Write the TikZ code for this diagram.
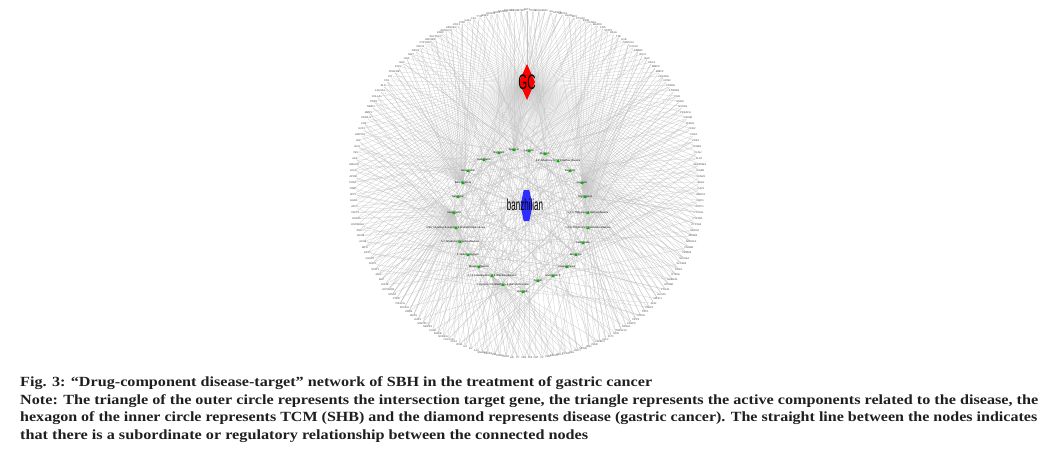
\documentclass[tikz,border=0pt]{standalone}
\usepackage{fontspec}
\usepackage{graphicx}
\setmainfont{Liberation Serif}
\newfontfamily\arialf{Liberation Sans}
\usetikzlibrary{shapes.geometric,backgrounds,calc}
\def\genelist{AKT1,TP53,VEGFA,JUN,IL6,CASP3,MAPK1,EGFR,MYC,PTGS2,ESR1,CCND1,MAPK8,FOS,STAT3,RELA,TNF,IL1B,MAPK14,CXCL8,ERBB2,BCL2,BAX,HIF1A,MMP9,MMP2,CDKN1A,NOS2,PPARG,CTNNB1,PGR,RXRA,NCOA2,PRKACA,GSK3B,CHEK1,CDK2,CDK1,CDK4,CCNB1,PLAU,PLAT,SERPINE1,ICAM1,VCAM1,SELE,CAV1,HMOX1,NQO1,GSTP1,CYP1A1,CYP1B1,CYP3A4,ABCG2,ADRB2,ADRA1A,CHRM1,CHRM2,SLC6A4,SLC6A3,DRD1,HTR2A,GABRA1,OPRM1,PTGS1,ALOX5,NR3C1,AHR,PARP1,TOP1,TOP2A,DPP4,CASP8,FASLG,TNFSF10,KDR,FLT1,IGF2,IGFBP3,INSR,IRS1,MDM2,E2F1,RB1,PCNA,MCL1,BIRC5,XIAP,F2,CAT,F10,FAS,F7,AR,CDH1,SNAI1,VIM,TGFB1,SMAD3,IL10,IL2,IL4,IFNG,CCL2,CXCL10,NFKBIA,IKBKB,CHUK,MAPK3,MAP2K1,RAF1,HRAS,KRAS,PIK3CA,PIK3CG,PTEN,MTOR,RPS6KB1,EIF4E,SRC,JAK2,STAT1,SOD1,CASP9,GPX1,MPO,ACHE,BCHE,XDH,HSP90AA1,HSPA5,DDIT4,ATF3,EGR1,SPP1,THBD,PON1,APOB,LDLR,HMGCR,ALB,INS,GCG,LEP,ADIPOQ,UCP1,CRP,CD40LG,MMP1,MMP3,TIMP1,COL1A1,COL3A1,ELN,FN1,KIT,PDGFRB,FGF2,EGF,HGF,MET,NR1I2,NR1I3,CYP19A1,HSD3B2,SULT1E1,ESR2,AKR1C3,AKR1B1,ODC1,POR,GJA1,CA2,TYR,BMP2,RUNX2,SOX2,NANOG,POU5F1,PRSS1,CTSD}
\begin{document}
\begin{tikzpicture}[x=1pt,y=-1pt,
  edge/.style={draw=black!24, line width=0.22pt},
  gene/.style={font=\arialf\fontsize{2.6}{2.8}\selectfont, text=black!72, inner sep=0.15pt},
  comp/.style={regular polygon, regular polygon sides=3, fill=green!72!black, draw=none, inner sep=0pt, minimum size=4pt},
  clab/.style={font=\arialf\fontsize{2.6}{2.9}\selectfont, text=black, inner sep=0pt},
  captext/.style={font=\bfseries\fontsize{14}{16}\selectfont, text=black!88, inner sep=0pt, anchor=base west}
]
\useasboundingbox (0,0) rectangle (1050,458);

% centres of disease and drug
\coordinate (gc) at (527,82);
\coordinate (shb) at (526.5,205.5);

% active components (inner ring)
\foreach \n/\x/\y/\t in {
  1/484/160/{Scutellarein},
  2/499/153/{Baicalein},
  3/514/150/{Apigenin},
  4/529/151/{Luteolin},
  5/545/154/{Wogonin},
  6/558/161/{5,2'-Dihydroxy-6,7,8-trimethoxyflavone},
  7/570/171/{Rivularin},
  8/582/183/{quercetin},
  9/585/197/{Stigmasterol},
  10/588/213/{5,7,4'-Trihydroxy-8-methoxyflavone},
  11/588/228/{5,2',6'-Trihydroxy-7,8-dimethoxyflavone},
  12/583/243/{Carthamidin},
  13/576/255/{Eriodictyol},
  14/567/267/{Isoscutellarein},
  15/553/276/{Ikarisoside F},
  16/538/281/{Dinatin},
  17/523/292/{Hispidulin},
  18/503/285/{7-Hydroxy-5,8-dimethoxy-2-phenyl-chromone},
  19/492/276/{5,7,2,5-tetrahydroxy-8,6-dimethoxyflavone},
  20/479/267/{Moslosooflavone},
  21/468/255/{4'-Hydroxywogonin},
  22/460/242/{5,7-Dihydroxy-8-methoxyflavone},
  23/456/228/{(2R)-7-hydroxy-5-methoxy-2-phenylchroman-4-one},
  24/454/213/{kaempferol},
  25/458/197/{Salvigenin},
  26/463/183/{beta-sitosterol},
  27/468/171/{Norwogonin}} {
  \node[clab] (t\n) at (\x,\y) {\t};
  \node[comp] (c\n) at (\x,\y) {};
}

% targets (outer circle)
\foreach \g [count=\k] in \genelist {\xdef\Ngenes{\k}}
\pgfmathsetmacro\angstep{360/\Ngenes}
\foreach \g [count=\k] in \genelist {
  \pgfmathsetmacro\ang{90-(\k-1)*\angstep}
  \pgfmathsetmacro\gx{527+174*cos(\ang)}
  \pgfmathsetmacro\gy{184-174*sin(\ang)}
  \node[gene] (g\k) at (\gx,\gy) {\g};
}

% connectors
\begin{pgfonlayer}{background}
\foreach \k in {1,...,\Ngenes} {
  \pgfmathsetmacro\ang{mod(450-(\k-1)*\angstep,360)}
  \pgfmathtruncatemacro\hub{(\ang>100 && \ang<165) ? 26 : ((\ang>=165 && \ang<262) ? 24 : ((\ang>=262 && \ang<290) ? 19 : ((\ang>80 && \ang<=100) ? 3 : 8)))}
  \pgfmathtruncatemacro\ra{mod(\k*37+11,27)+1}
  \pgfmathtruncatemacro\rb{mod(\k*53+5,27)+1}
  \draw[edge] (g\k) -- (gc);
  \draw[edge] (g\k) -- (c\hub);
  \draw[edge] (g\k) -- (c\ra);
  \ifodd\k \draw[edge] (g\k) -- (c\rb); \fi
}
\foreach \n in {1,...,27} \draw[edge] (c\n) -- (shb);
\end{pgfonlayer}

% disease node (diamond)
\fill[red] ($(gc)+(0,-18)$) -- ($(gc)+(8,0)$) -- ($(gc)+(0,18)$) -- ($(gc)+(-8,0)$) -- cycle;
\node[font=\arialf\fontsize{21}{21}\selectfont, inner sep=0] (gct) at (gc) {\scalebox{0.55}[1]{GC}};

% drug node (hexagon)
\definecolor{hexblue}{RGB}{45,45,255}
\fill[hexblue] ($(shb)+(-2.8,-15.5)$) -- ($(shb)+(2.8,-15.5)$) -- ($(shb)+(6,0)$) -- ($(shb)+(2.8,15.5)$) -- ($(shb)+(-2.8,15.5)$) -- ($(shb)+(-6,0)$) -- cycle;
\node[font=\arialf\fontsize{16}{16}\selectfont, inner sep=0] (shbt) at ($(shb)+(-1.5,-1)$) {\scalebox{0.5}[1]{banzhilian}};

% caption
\node[captext] (l1) at (20,386) {\resizebox{632pt}{\height}{Fig. 3: “Drug-component disease-target” network of SBH in the treatment of gastric cancer}};
\node[captext] (l2) at (20,404) {\resizebox{1018pt}{\height}{Note: The triangle of the outer circle represents the intersection target gene, the triangle represents the active components related to the disease, the}};
\node[captext] (l3) at (20,421.5) {\resizebox{1017pt}{\height}{hexagon of the inner circle represents TCM (SHB) and the diamond represents disease (gastric cancer). The straight line between the nodes indicates}};
\node[captext] (l4) at (20,439) {\resizebox{568pt}{\height}{that there is a subordinate or regulatory relationship between the connected nodes}};
\end{tikzpicture}
\end{document}
